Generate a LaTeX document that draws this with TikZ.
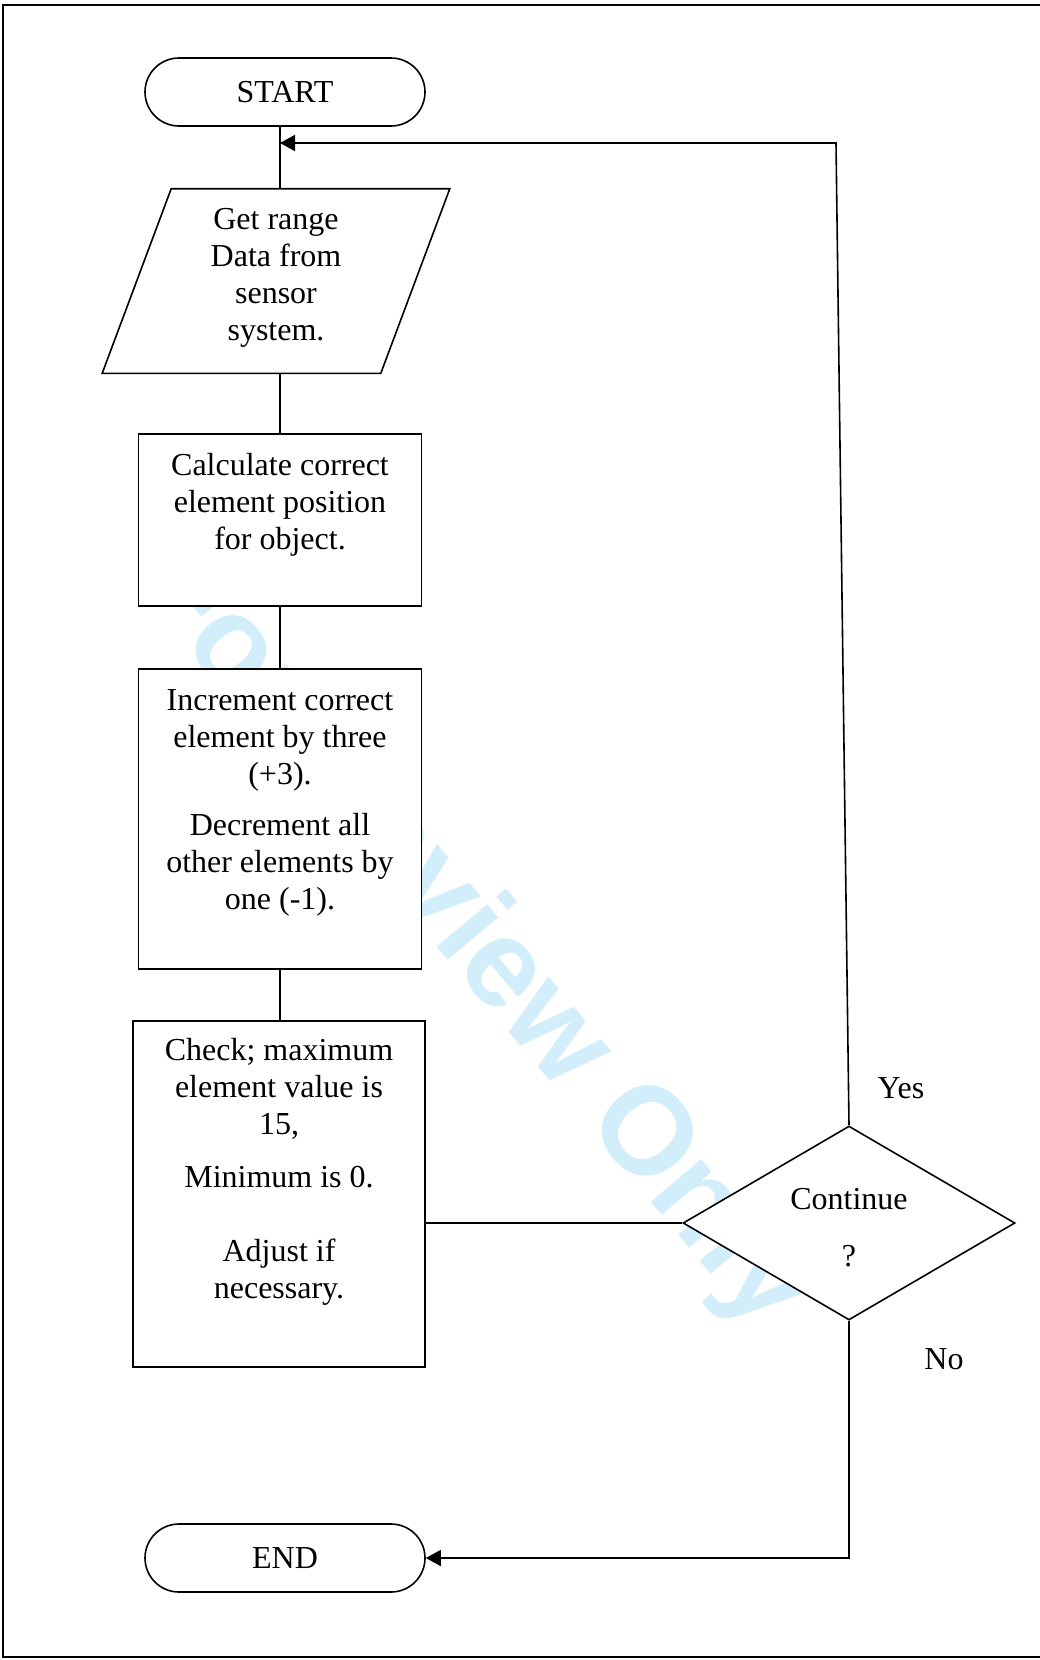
\documentclass[tikz,border=0pt]{standalone}
\usepackage{fontspec}
\setmainfont{Liberation Serif}
\newfontfamily\wmfont{Liberation Sans}
\usetikzlibrary{shapes.geometric,arrows.meta}
\definecolor{wmblue}{RGB}{210,238,251}
\tikzset{box/.style = {draw, fill = white, line width = 1.6pt, inner sep = 0}}
\tikzset{term/.style = {box, rounded corners = 34pt, minimum width = 280, minimum height = 68}}
\tikzset{txt/.style = {align = center, inner sep = 0, font = \fontsize{32}{37}\selectfont}}
\tikzset{arr/.style = {-{Triangle[length = 15pt, width = 16pt]}}}

\begin{document}
\begin{tikzpicture}[x = 1pt, y = -1pt, line width = 1.6pt]
    \useasboundingbox (0, 0) rectangle (1040, 1660);
    \draw [line width = 2pt] (1040, 5) -- (3, 5) -- (3, 1657) -- (1040, 1657);
    % watermark, behind the boxes
    \node[color = wmblue, rotate = -50, font = \wmfont\bfseries\fontsize{125}{125}\selectfont] (mark) at (472, 938) {For Review Only};

    \node[term, txt] (start) at (285, 92) {START};
    \node[inner sep = 0, minimum width = 277, minimum height = 183] (get) at (276, 281) {};
    \draw [fill = white] ([xshift = 34.5pt]get.north west) -- ([xshift = 34.5pt]get.north east)
        -- ([xshift = -34.5pt]get.south east) -- ([xshift = -34.5pt]get.south west) -- cycle;
    \node[box, minimum width = 283, minimum height = 172] (calc) at (280, 520) {};
    \node[box, minimum width = 283, minimum height = 300] (incr) at (280, 819) {};
    \node[box, minimum width = 292, minimum height = 346] (check) at (279, 1194) {};
    \node[box, diamond, minimum width = 332, minimum height = 194] (dec) at (849, 1223) {};
    \node[term, txt] (end) at (285, 1558) {END};

    \node[txt, anchor = north] (gettxt) at ([yshift = -19pt]get.north) {Get range\\Data from\\sensor\\system.};
    \node[txt, anchor = north] (calctxt) at ([yshift = -19pt]calc.north) {Calculate correct\\element position\\for object.};
    \node[txt, anchor = north] (incrtxt) at ([yshift = -21pt]incr.north) {Increment correct\\element by three\\(+3).\\[14pt]Decrement all\\other elements by\\one (-1).};
    \node[txt, anchor = north] (checktxt) at ([yshift = -17pt]check.north) {Check; maximum\\element value is\\15,\\[16pt]Minimum is 0.\\[37pt]Adjust if\\necessary.};
    \node[txt] (dectxt) at (849, 1228) {Continue\\[20pt]?};
    \node[txt] (yes) at (901, 1088) {Yes};
    \node[txt] (no) at (944, 1359) {No};

    \coordinate (loop) at (836, 143);
    \draw (start.south -| calc.north) -- (get.north -| calc.north);
    \draw (get.south -| calc.north) -- (calc.north);
    \draw (calc.south) -- (incr.north);
    \draw (incr.south) -- (incr.south |- check.north);
    \draw (dec.west -| check.east) -- (dec.west);
    \draw [arr] (dec.north) -- (loop) -- (loop -| calc.north);
    \draw [arr] (dec.south) |- (end.east);
\end{tikzpicture}
\end{document}
